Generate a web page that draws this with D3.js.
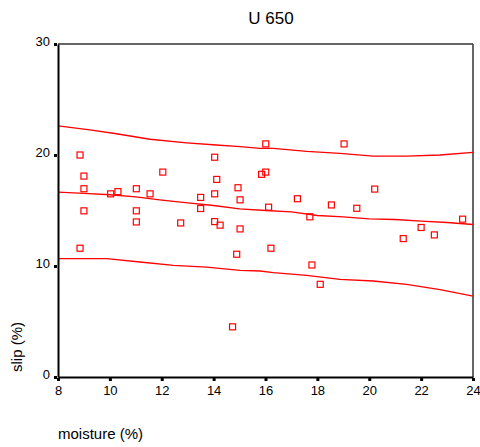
<!DOCTYPE html>
<html><head><meta charset="utf-8">
<script src="https://cdn.jsdelivr.net/npm/d3@7"></script>
<style>body{margin:0;background:#fff}svg{display:block}text{font-family:Arial,"Liberation Sans",sans-serif}</style>
</head><body>
<svg id="c" width="480" height="447"></svg>
<script>
const title = "U 650";
const xLabel = "moisture (%)";
const yLabel = "slip (%)";
const xTicks = [8,10,12,14,16,18,20,22,24];
const yTicks = [0,10,20,30];

const moisture = [8.85,9.0,9.0,9.0,8.85,10.03,10.31,11.02,11.02,11.02,11.55,12.04,12.73,13.5,13.5,
  14.04,14.12,14.04,14.04,14.25,14.94,15.02,15.02,14.89,15.85,16.01,16.01,19.03,20.21,16.12,17.23,
  18.54,19.52,17.71,23.6,22.0,21.31,22.51,16.21,17.79,18.11,14.73];
const slip = [20.0,18.1,16.96,14.97,11.6,16.5,16.7,16.96,14.97,13.97,16.5,18.46,13.88,16.18,15.18,
  19.8,17.8,16.5,14.0,13.68,17.05,15.96,13.34,11.06,18.26,18.46,21.0,21.0,16.93,15.3,16.06,
  15.5,15.2,14.43,14.22,13.47,12.47,12.8,11.6,10.09,8.35,4.52];

const fitX = [8,9,10,11,12,13,14,15,16,17,18,19,20,21,22,23,24];
const fitMid = [16.66,16.54,16.42,16.23,15.94,15.69,15.45,15.15,15.0,14.88,14.55,14.43,14.25,14.19,14.04,13.92,13.74];
const upX = [8,9.23,10.13,11.55,12.96,14.1,15.02,15.79,16.3,17.59,18.87,20.15,21.44,22.73,24];
const upY = [22.62,22.26,21.96,21.42,21.1,20.9,20.75,20.6,20.6,20.33,20.15,19.9,19.9,20.0,20.24];
const loX = [8,9.88,11.16,12.45,13.73,15.02,15.79,16.3,17.59,18.87,20.15,21.44,22.73,24];
const loY = [10.67,10.67,10.36,10.06,9.9,9.6,9.55,9.4,9.16,8.8,8.65,8.35,7.87,7.29];

const svg = d3.select("#c");
const L=58, R=473, T=44, B=377;
const x = d3.scaleLinear().domain([8,24]).range([L,R]);
const y = d3.scaleLinear().domain([0,30]).range([B,T]);

// frame
svg.append("line").attr("x1",L).attr("x2",R).attr("y1",T).attr("y2",T).attr("stroke","#333").attr("stroke-width",1.5);
svg.append("line").attr("x1",R).attr("x2",R).attr("y1",T).attr("y2",B).attr("stroke","#333").attr("stroke-width",1.5);

const line = d3.line().x(d=>x(d[0])).y(d=>y(d[1]));
const red = "#ff0000";
[[fitX,fitMid],[upX,upY],[loX,loY]].forEach(([xs,ys])=>{
  svg.append("path").attr("d",line(xs.map((v,i)=>[v,ys[i]]))).attr("fill","none").attr("stroke",red).attr("stroke-width",1.3);
});

svg.append("g").selectAll("rect").data(moisture.map((v,i)=>[v,slip[i]])).join("rect")
  .attr("x",d=>x(d[0])-3).attr("y",d=>y(d[1])-3).attr("width",6).attr("height",6)
  .attr("fill","none").attr("stroke",red).attr("stroke-width",1.2);

// axes
const xa = d3.axisBottom(x).tickValues(xTicks).tickSize(0).tickPadding(9);
const gx = svg.append("g").attr("transform",`translate(0,${B})`).call(xa);
gx.select(".domain").attr("stroke","#000").attr("stroke-width",2);
gx.selectAll("text").attr("font-size",13).attr("fill","#000");
gx.selectAll(".tick").append("rect").attr("x",-1.5).attr("y",1).attr("width",3).attr("height",3).attr("fill","#000");

const ya = d3.axisLeft(y).tickValues(yTicks).tickSize(0).tickPadding(8);
const gy = svg.append("g").attr("transform",`translate(${L},0)`).call(ya);
gy.select(".domain").attr("stroke","#000").attr("stroke-width",2);
gy.selectAll("text").attr("font-size",13).attr("fill","#000").attr("dy","0.1em");
gy.selectAll(".tick").append("rect").attr("x",-4).attr("y",-1.5).attr("width",3).attr("height",3).attr("fill","#000");

svg.append("text").attr("x",271).attr("y",24).attr("text-anchor","middle").attr("font-size",17).attr("fill","#000").text(title);
svg.append("text").attr("x",58).attr("y",439).attr("font-size",15).attr("fill","#000").text(xLabel);
svg.append("text").attr("transform","translate(22,347) rotate(-90)").attr("text-anchor","middle").attr("font-size",15).attr("fill","#000").text(yLabel);
</script>
</body></html>
